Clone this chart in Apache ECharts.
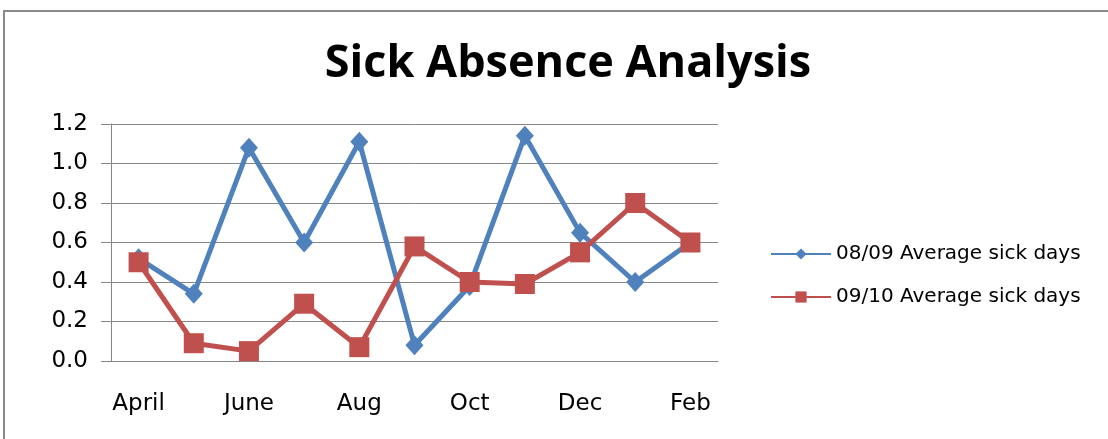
<!DOCTYPE html>
<html>
<head>
<meta charset="utf-8">
<script src="https://cdn.jsdelivr.net/npm/echarts@6/dist/echarts.min.js"></script>
<style>html,body{margin:0;padding:0;background:#fff;}#c{width:1108px;height:439px;}</style>
</head>
<body>
<div id="c"></div>
<script>
const months = ['April','May','June','July','Aug','Sep','Oct','Nov','Dec','Jan','Feb'];
const sick0809 = [0.52, 0.34, 1.08, 0.60, 1.11, 0.08, 0.38, 1.14, 0.65, 0.40, 0.60];
const sick0910 = [0.50, 0.09, 0.05, 0.29, 0.07, 0.58, 0.40, 0.39, 0.55, 0.80, 0.60];
const seriesNames = ['08/09 Average sick days', '09/10 Average sick days'];
const titleText = 'Sick Absence Analysis';

const chart = echarts.init(document.getElementById('c'), null, {renderer: 'canvas'});
chart.setOption({
  animation: false,
  backgroundColor: '#fff',
  title: {
    text: titleText, left: 563, top: 37, textAlign: 'center',
    textStyle: {fontFamily: 'Open Sans', fontWeight: 'bold', fontSize: 45, color: '#000'}
  },
  graphic: [{
    type: 'rect', shape: {x: 4, y: 11, width: 1200, height: 600},
    style: {fill: null, stroke: '#8a8a8a', lineWidth: 2}, silent: true
  }],
  legend: {
    orient: 'vertical', left: 765, top: 239, itemWidth: 60, itemHeight: 14, itemGap: 23,
    textStyle: {fontFamily: 'DejaVu Sans', fontSize: 20, color: '#000'},
    lineStyle: {width: 2},
    data: seriesNames
  },
  grid: {left: 111, right: 390, top: 124, bottom: 78},
  xAxis: {
    type: 'category', data: months, boundaryGap: true,
    axisLine: {lineStyle: {color: '#868686', width: 1}},
    axisTick: {interval: 0, length: 8, lineStyle: {color: '#868686'}},
    axisLabel: {interval: 1, margin: 32, fontFamily: 'DejaVu Sans', fontSize: 23, color: '#000'}
  },
  yAxis: {
    type: 'value', min: 0, max: 1.2, interval: 0.2,
    axisLine: {show: true, lineStyle: {color: '#868686', width: 1}},
    axisTick: {show: true, length: 10, lineStyle: {color: '#868686'}},
    splitLine: {lineStyle: {color: '#868686', width: 1}},
    axisLabel: {margin: 23, fontFamily: 'DejaVu Sans', fontSize: 23, color: '#000',
      formatter: v => v.toFixed(1)}
  },
  series: [
    {name: seriesNames[0], type: 'line', data: sick0809, symbol: 'diamond', symbolSize: [18, 20],
     lineStyle: {color: '#4F81BD', width: 5}, itemStyle: {color: '#4F81BD'}},
    {name: seriesNames[1], type: 'line', data: sick0910, symbol: 'rect', symbolSize: 20,
     lineStyle: {color: '#C0504D', width: 5}, itemStyle: {color: '#C0504D'}}
  ]
});
</script>
</body>
</html>
